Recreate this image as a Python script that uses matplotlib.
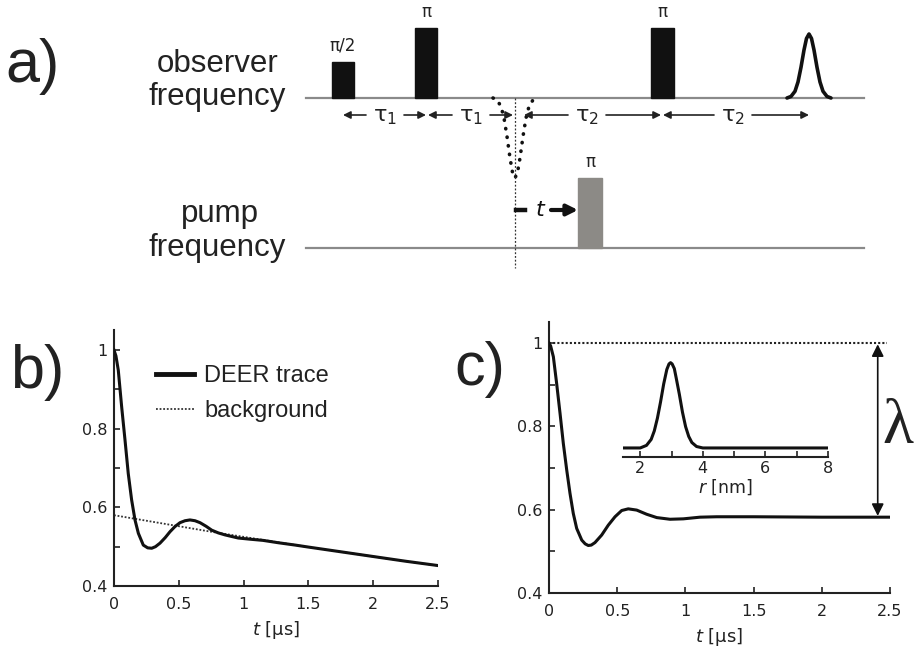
import numpy as np
import matplotlib
matplotlib.use('Agg')
import matplotlib.pyplot as plt
from matplotlib.patches import Rectangle

plt.rcParams['font.family'] = ['DejaVu Sans']
plt.rcParams['mathtext.fontset'] = 'dejavusans'

# b) DEER trace and background
t_b = [0, 0.015, 0.033, 0.059, 0.085, 0.110, 0.136, 0.162, 0.188, 0.226, 0.26,
       0.291, 0.32, 0.355, 0.395, 0.432, 0.47, 0.509, 0.548, 0.586, 0.625, 0.664,
       0.71, 0.754, 0.805, 0.856, 0.907, 0.959, 1.05, 1.15, 1.268, 1.4, 1.5, 1.75,
       2.0, 2.25, 2.5]
v_b = [1.0, 0.985, 0.949, 0.856, 0.771, 0.686, 0.619, 0.568, 0.534, 0.504, 0.497,
       0.496, 0.500, 0.509, 0.523, 0.538, 0.551, 0.561, 0.566, 0.568, 0.566, 0.561,
       0.552, 0.542, 0.535, 0.530, 0.526, 0.522, 0.519, 0.516, 0.510, 0.504, 0.499,
       0.487, 0.475, 0.463, 0.452]
t_bg = [0, 0.25, 0.5, 0.75, 1.0, 1.25, 1.5, 1.75, 2.0, 2.25, 2.5]
v_bg = [0.580, 0.566, 0.552, 0.538, 0.525, 0.512, 0.499, 0.487, 0.475, 0.463, 0.452]

# c) background-corrected form factor
t_c = [0, 0.012, 0.032, 0.056, 0.081, 0.105, 0.130, 0.154, 0.178, 0.203, 0.240,
       0.265, 0.288, 0.31, 0.337, 0.386, 0.435, 0.484, 0.533, 0.581, 0.643, 0.716,
       0.790, 0.887, 0.985, 1.107, 1.229, 1.5, 2.0, 2.5]
v_c = [1.0, 0.993, 0.967, 0.903, 0.831, 0.759, 0.695, 0.639, 0.591, 0.555, 0.527,
       0.518, 0.514, 0.515, 0.521, 0.539, 0.563, 0.583, 0.598, 0.602, 0.599, 0.589,
       0.581, 0.577, 0.578, 0.582, 0.583, 0.583, 0.582, 0.582]
plateau = 0.582

# inset: distance distribution
r_nm = [1.45, 2.0, 2.2, 2.35, 2.45, 2.55, 2.65, 2.75, 2.85, 2.92, 2.97, 3.02,
        3.09, 3.15, 3.25, 3.35, 3.45, 3.55, 3.65, 3.8, 4.0, 5.0, 6.0, 7.0, 8.0]
p_r = [0.0, 0.0, 0.03, 0.10, 0.20, 0.35, 0.54, 0.75, 0.92, 0.985, 1.0, 0.985,
       0.93, 0.82, 0.63, 0.42, 0.25, 0.135, 0.064, 0.017, 0.0, 0.0, 0.0, 0.0, 0.0]

# pulse shape used for echo / refocused echo in the scheme
shape_x = [-22, -18, -14, -11, -8, -5, -2.5, 0, 2.5, 5, 8, 11, 14, 18, 22]
shape_y = [0.0, 0.024, 0.105, 0.25, 0.48, 0.75, 0.93, 1.0, 0.93, 0.75, 0.48,
           0.25, 0.105, 0.024, 0.0]

fig = plt.figure(figsize=(9.17, 6.48), dpi=100)

# ---------- a) pulse sequence, drawn in pixel coordinates ----------
ax0 = fig.add_axes([0, 0, 1, 1])
ax0.set_xlim(0, 917)
ax0.set_ylim(648, 0)
ax0.axis('off')

sans = 'Liberation Sans'
ax0.text(5, 82, 'a)', fontsize=44, family=sans, color='#222')
ax0.text(10, 388, 'b)', fontsize=44, family=sans, color='#222')
ax0.text(505, 385, 'c)', fontsize=44, family=sans, color='#222', ha='right')

ax0.text(218, 72, 'observer', fontsize=22.5, family=sans, color='#222', ha='center')
ax0.text(217, 105, 'frequency', fontsize=22.5, family=sans, color='#222', ha='center')
ax0.text(220, 222, 'pump', fontsize=22.5, family=sans, color='#222', ha='center')
ax0.text(217, 256, 'frequency', fontsize=22.5, family=sans, color='#222', ha='center')

obs_y = 98
pump_y = 248
ax0.plot([306, 864], [obs_y, obs_y], color='#8a8a8a', lw=1.6)
ax0.plot([306, 864], [pump_y, pump_y], color='#8a8a8a', lw=1.6)

for x, w, h, lab in [(332, 22, 36, 'π/2'), (415, 22, 70, 'π'), (651, 23, 70, 'π')]:
    ax0.add_patch(Rectangle((x, obs_y - h), w, h, color='#111', zorder=3))
    ax0.text(x + w / 2, obs_y - h - 7, lab, fontsize=12, ha='center', va='bottom',
             color='#222')

ax0.add_patch(Rectangle((578, 178), 24, pump_y - 178, color='#8c8a86', zorder=3))
ax0.text(590, 171, 'π', fontsize=12, ha='center', va='bottom', color='#222')

sx = np.array(shape_x)
sy = np.array(shape_y)
ax0.plot(809 + sx, obs_y - 64 * sy, color='#111', lw=2.6, solid_capstyle='round')
ax0.plot(515 + sx, obs_y + 80 * sy, color='#111', lw=2.6,
         ls=(0, (0.1, 2.3)), dash_capstyle='round')
ax0.plot([515, 515], [obs_y, 268], color='#333', lw=0.9, ls=(0, (1.5, 1.5)))

arr = dict(arrowstyle='-|>', color='#222', lw=1.2, mutation_scale=11,
           shrinkA=0, shrinkB=0)
for x_l, x_r, x_t, lab in [(343, 426, 385, r'τ$_1$'), (428, 513, 471, r'τ$_1$'),
                           (524, 661, 587, r'τ$_2$'), (663, 809, 733, r'τ$_2$')]:
    ax0.text(x_t, 117, lab, fontsize=16, ha='center', va='center', color='#222')
    ax0.annotate('', xy=(x_l, 115), xytext=(x_t - 19, 115), arrowprops=arr)
    ax0.annotate('', xy=(x_r, 115), xytext=(x_t + 19, 115), arrowprops=arr)

ax0.plot([516, 525], [210, 210], color='#111', lw=3.2)
ax0.text(541, 210, '$t$', fontsize=16, ha='center', va='center', color='#111')
ax0.annotate('', xy=(578, 210), xytext=(551, 210),
             arrowprops=dict(arrowstyle='-|>', color='#111', lw=3,
                             mutation_scale=16, shrinkA=0, shrinkB=0))


def style_axis(ax):
    for s in ['top', 'right']:
        ax.spines[s].set_visible(False)
    for s in ['left', 'bottom']:
        ax.spines[s].set_linewidth(1.5)
        ax.spines[s].set_color('#222')
    ax.set_xlim(0, 2.5)
    ax.set_ylim(0.4, 1.05)
    ax.set_xticks([0, 0.5, 1, 1.5, 2, 2.5], ['0', '0.5', '1', '1.5', '2', '2.5'])
    ax.set_yticks([0.4, 0.6, 0.8, 1], ['0.4', '0.6', '0.8', '1'])
    ax.set_yticks([0.5, 0.7, 0.9], minor=True)
    ax.tick_params(which='both', direction='in', length=4, width=1.2,
                   labelsize=11.5, colors='#222')
    ax.tick_params(axis='x', pad=8)
    ax.tick_params(axis='y', pad=5)
    ax.set_xlabel('$t$ [μs]', fontsize=13, color='#222', labelpad=5)
    ax.patch.set_alpha(0)


# ---------- b) ----------
axb = fig.add_axes([114 / 917, 62 / 648, 324 / 917, 255.6 / 648])
style_axis(axb)
axb.plot(t_b, v_b, color='#111', lw=2.2, label='DEER trace', zorder=3)
axb.plot(t_bg, v_bg, color='#333', lw=1.3, ls=(0, (1, 1)), label='background')
leg = axb.legend(loc='upper left', bbox_to_anchor=(156 / 917, 1 - 365 / 648),
                 bbox_transform=fig.transFigure, frameon=False, borderpad=0,
                 borderaxespad=0, handlelength=1.6, handletextpad=0.45,
                 labelspacing=0.55, prop={'family': sans, 'size': 17})
leg.get_lines()[0].set_linewidth(3.5)
for txt in leg.get_texts():
    txt.set_color('#222')

# ---------- c) ----------
axc = fig.add_axes([549 / 917, 55 / 648, 341 / 917, 270.8 / 648])
style_axis(axc)
axc.plot(t_c, v_c, color='#111', lw=2.2, zorder=3)
axc.plot([0, 2.48], [1, 1], color='#222', lw=1.5, ls=(0, (1, 1)))
axc.annotate('', xy=(2.41, 0.997), xytext=(2.41, plateau + 0.003),
             arrowprops=dict(arrowstyle='<|-|>', color='#111', lw=1.2,
                             mutation_scale=18, shrinkA=0, shrinkB=0))
fig.text(898 / 917, 1 - 428 / 648, 'λ', fontsize=46, family='Liberation Serif',
         ha='center', va='center', color='#222')

# inset
axi = fig.add_axes([623 / 917, 191 / 648, 205 / 917, 98.6 / 648])
axi.patch.set_alpha(0)
for s in ['top', 'right', 'left']:
    axi.spines[s].set_visible(False)
axi.spines['bottom'].set_linewidth(1.5)
axi.spines['bottom'].set_color('#222')
axi.plot(r_nm, p_r, color='#111', lw=2.2)
axi.set_xlim(1.45, 8)
axi.set_ylim(-0.106, 1.05)
axi.set_yticks([])
axi.set_xticks([2, 4, 6, 8], ['2', '4', '6', '8'])
axi.set_xticks([3, 5, 7], minor=True)
axi.tick_params(which='both', direction='in', length=4, width=1.2,
                labelsize=11.5, colors='#222', pad=3)
axi.set_xlabel('$r$ [nm]', fontsize=12.5, color='#222', labelpad=1)

fig.savefig('out.png', dpi=100)
